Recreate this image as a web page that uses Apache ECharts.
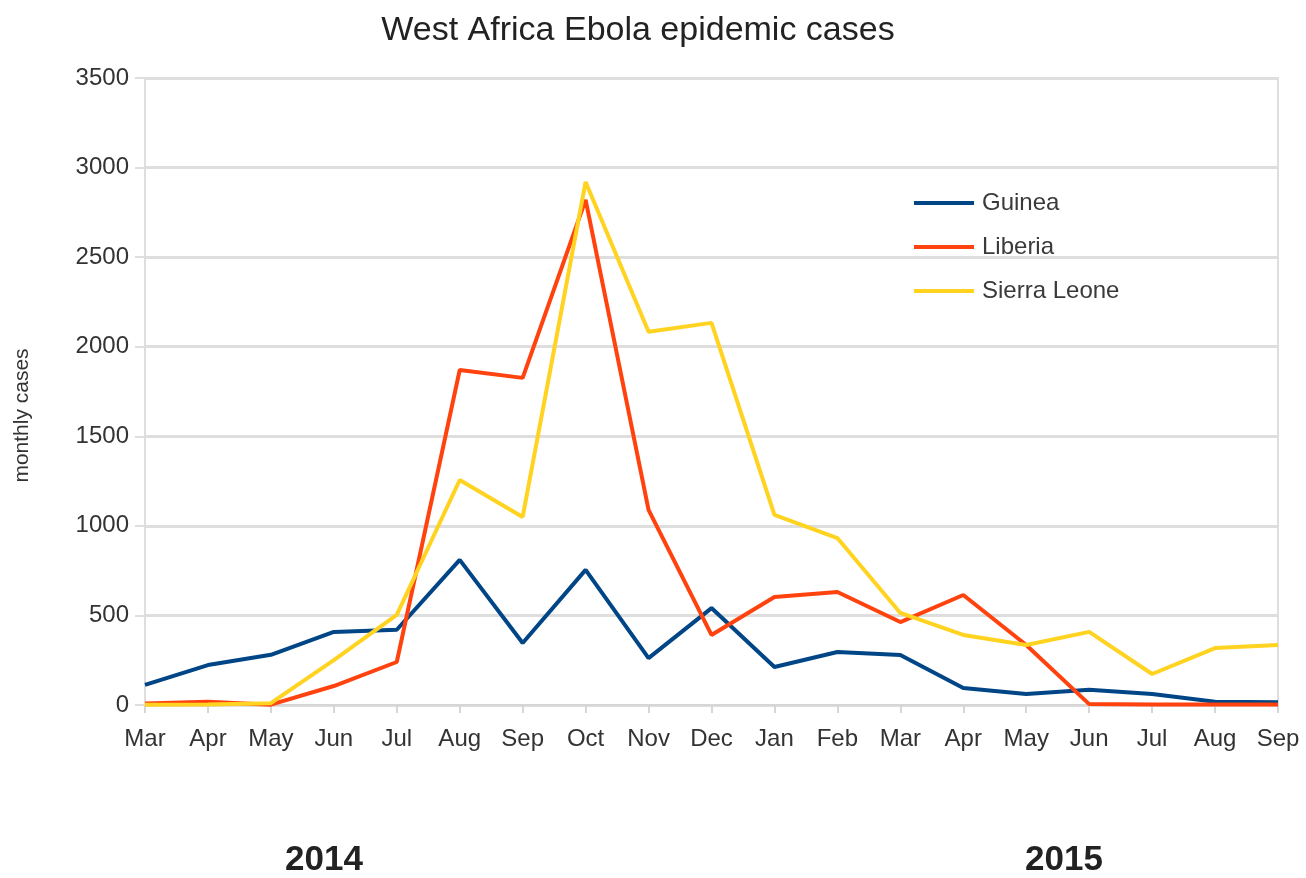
<!DOCTYPE html>
<html>
<head>
<meta charset="utf-8">
<script src="https://cdn.jsdelivr.net/npm/echarts@6/dist/echarts.min.js"></script>
<style>
  html, body { margin: 0; padding: 0; background: #ffffff; }
  #chart { width: 1306px; height: 878px; }
</style>
</head>
<body>
<div id="chart"></div>
<script>
// Monthly Ebola cases, March 2014 to September 2015
const months = ['Mar', 'Apr', 'May', 'Jun', 'Jul', 'Aug', 'Sep', 'Oct', 'Nov', 'Dec',
                'Jan', 'Feb', 'Mar', 'Apr', 'May', 'Jun', 'Jul', 'Aug', 'Sep'];
const guinea = [112, 223, 280, 408, 420, 810, 346, 754, 262, 541, 212, 296, 279, 95, 61, 85, 61, 18, 15];
const liberia = [8, 18, 2, 106, 240, 1870, 1826, 2820, 1089, 391, 603, 631, 463, 614, 335, 5, 3, 3, 3];
const sierraLeone = [2, 3, 10, 250, 503, 1256, 1050, 2920, 2083, 2133, 1061, 932, 514, 391, 335, 408, 173, 318, 335];
const yearLabels = ['2014', '2015'];
const yTicks = { min: 0, max: 3500, interval: 500 };

const FONT = 'Liberation Sans';
const chart = echarts.init(document.getElementById('chart'));

const line = (name, data, color) => ({
  name, type: 'line', data,
  showSymbol: false, symbol: 'none',
  lineStyle: { color, width: 4 },
  itemStyle: { color }
});

chart.setOption({
  animation: false,
  backgroundColor: '#ffffff',
  title: {
    text: 'West Africa Ebola epidemic cases',
    left: 633, top: 9, textAlign: 'center',
    textStyle: { fontFamily: FONT, fontSize: 34, fontWeight: 'normal', color: '#222' }
  },
  legend: {
    orient: 'vertical',
    left: 909, top: 186,
    itemWidth: 60, itemHeight: 4, itemGap: 20,
    icon: 'rect',
    textStyle: { fontFamily: FONT, fontSize: 24, color: '#3a3a3a', padding: [0, 0, 0, 3] },
    data: ['Guinea', 'Liberia', 'Sierra Leone']
  },
  grid: {
    left: 145, right: 28, top: 78, bottom: 173,
    outerBoundsMode: 'none', containLabel: false,
    show: true, borderColor: '#dedede', borderWidth: 2
  },
  xAxis: {
    type: 'category', data: months, boundaryGap: false,
    axisLine: { show: true, lineStyle: { color: '#d6d6d6', width: 2 } },
    axisTick: { show: true, length: 8, lineStyle: { color: '#d6d6d6', width: 2 } },
    axisLabel: { fontFamily: FONT, fontSize: 24, color: '#333', margin: 22 },
    splitLine: { show: false }
  },
  yAxis: {
    type: 'value', min: yTicks.min, max: yTicks.max, interval: yTicks.interval,
    name: 'monthly cases', nameLocation: 'middle', nameGap: 112, nameRotate: 90,
    nameTextStyle: { fontFamily: FONT, fontSize: 21, color: '#333', padding: [0, 48, 0, 0] },
    axisLine: { show: true, lineStyle: { color: '#dedede', width: 2 } },
    axisTick: { show: true, length: 10, lineStyle: { color: '#dedede', width: 2 } },
    axisLabel: {
      fontFamily: FONT, fontSize: 24, color: '#333', margin: 16,
      formatter: (v) => String(v)
    },
    splitLine: { show: true, lineStyle: { color: '#dedede', width: 3 } }
  },
  graphic: [
    { type: 'text', x: 324, y: 860, style: { text: yearLabels[0], font: 'bold 35px "Liberation Sans"', fill: '#222', align: 'center', verticalAlign: 'middle' } },
    { type: 'text', x: 1064, y: 860, style: { text: yearLabels[1], font: 'bold 35px "Liberation Sans"', fill: '#222', align: 'center', verticalAlign: 'middle' } }
  ],
  series: [
    line('Guinea', guinea, '#004586'),
    line('Liberia', liberia, '#ff420e'),
    line('Sierra Leone', sierraLeone, '#ffd320')
  ]
});
</script>
</body>
</html>
